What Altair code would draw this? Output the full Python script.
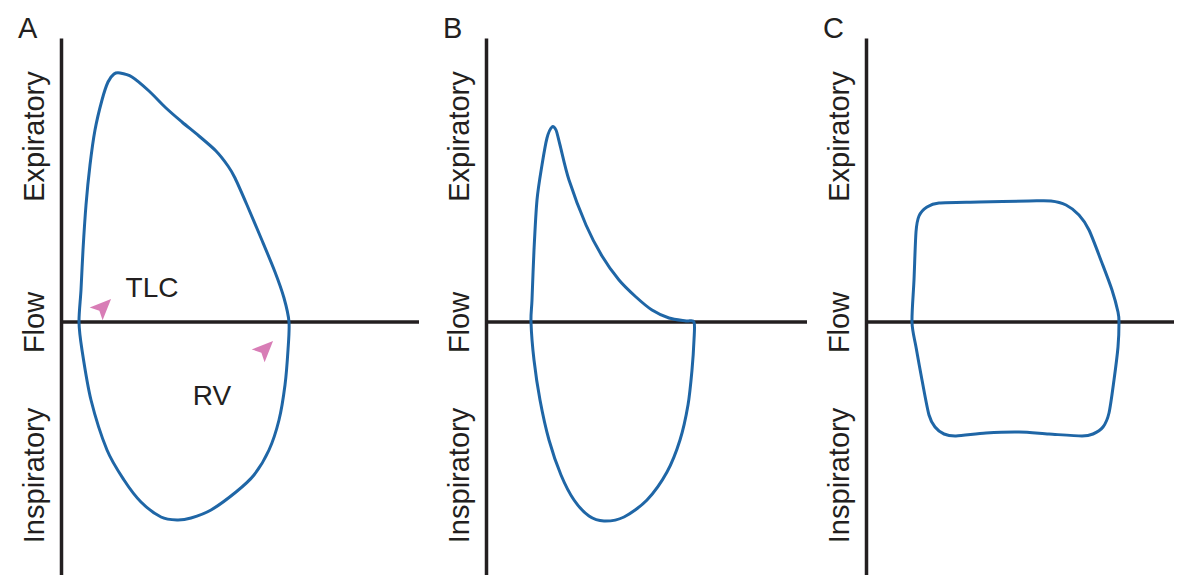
import altair as alt
import pandas as pd

# Flow-volume loops: volume (arbitrary units) vs flow (arbitrary units),
# expiration plotted upward, inspiration downward.
PANEL_LETTERS = ["A", "B", "C"]

A_VOLUME = [1.8, 2.0, 2.2, 2.5, 2.9, 3.4, 4.1, 4.7, 5.3, 5.9, 7.1, 8.8, 10.5, 12.1,
            13.8, 15.5, 16.7, 17.4, 18.6, 20.0, 21.4, 22.3, 22.8,
            22.7, 22.4, 21.8, 20.8, 19.3, 17.5, 15.0, 13.0, 11.6, 10.0, 8.0, 6.3,
            4.6, 3.0, 2.1]
A_FLOW = [0.0, 3.2, 7.2, 11.7, 15.7, 19.2, 22.2, 24.0, 24.8, 24.9, 24.5, 23.1, 21.4, 20.0,
          18.6, 17.1, 15.6, 14.4, 11.7, 8.4, 5.0, 2.4, 0.0,
          -2.8, -6.3, -9.8, -12.8, -15.3, -17.0, -18.8, -19.6, -19.8, -19.5, -18.0, -15.8,
          -12.8, -7.8, -2.8]

B_VOLUME = [4.5, 4.6, 4.8, 5.1, 5.6, 6.1, 6.6, 7.0, 7.4, 8.3, 10.0, 11.6, 13.3, 15.0,
            16.6, 18.3, 20.0, 20.8,
            20.8, 20.6, 20.2, 19.4, 18.1, 16.1, 13.8, 11.8, 10.3, 8.8, 7.5, 6.3, 5.4, 4.8]
B_FLOW = [0.0, 2.2, 7.2, 12.2, 15.7, 18.4, 19.5, 19.2, 17.7, 14.2, 9.7, 6.6, 4.2, 2.5,
          1.2, 0.4, 0.1, 0.0,
          -1.8, -4.8, -8.3, -11.8, -15.0, -17.8, -19.5, -19.9, -19.4, -17.8, -15.3, -11.8,
          -7.8, -3.8]

C_VOLUME = [4.6, 4.8, 5.0, 5.3, 6.1, 7.3, 11.3, 16.3, 18.5, 20.0, 21.3, 22.3, 23.6, 24.6,
            25.2, 25.3, 25.2, 24.8, 24.3, 23.7, 22.7, 21.6, 18.3, 15.3, 12.0, 9.0, 7.8,
            6.9, 6.3, 5.6, 5.0]
C_FLOW = [0.0, 4.2, 9.0, 10.6, 11.5, 11.9, 12.0, 12.1, 12.1, 11.7, 10.7, 9.2, 5.9, 3.2,
          1.0, 0.0, -2.5, -5.8, -9.1, -10.5, -11.2, -11.4, -11.2, -11.0, -11.1, -11.4, -11.2,
          -10.5, -9.3, -5.8, -2.5]

LOOPS_VOLUME = [A_VOLUME, B_VOLUME, C_VOLUME]
LOOPS_FLOW = [A_FLOW, B_FLOW, C_FLOW]

# extent of each panel's volume axis and of the drawn zero-flow line
PANEL_VOLUME_MAX = [38.5, 34.0, 30.8]
ZERO_LINE_END = [35.8, 32.1, 30.8]
FLOW_RANGE = [-25.3, 28.4]

SIDE_LABEL_FLOW = [18.6, 0.0, -15.3]
SIDE_LABEL_TEXT = ["Expiratory", "Flow", "Inspiratory"]

# annotations on panel A
NOTE_TEXT = ["TLC", "RV"]
NOTE_VOLUME = [9.1, 15.1]
NOTE_FLOW = [2.5, -8.3]
ARROW_VOLUME = [4.2, 20.4]
ARROW_FLOW = [1.5, -2.7]

INK = "#231f20"
LOOP_BLUE = "#1f66a6"
ARROW_PINK = "#d46fae"
FONT = "Liberation Sans"
PANEL_WIDTHS = [385, 340, 308]
PANEL_HEIGHT = 537

label_expr = ("datum.value > 1 ? '" + SIDE_LABEL_TEXT[0] + "' : datum.value < -1 ? '"
              + SIDE_LABEL_TEXT[2] + "' : '" + SIDE_LABEL_TEXT[1] + "'")


def make_panel(k):
    xs = alt.Scale(domain=[0, PANEL_VOLUME_MAX[k]], nice=False, zero=False)
    ys = alt.Scale(domain=FLOW_RANGE, nice=False, zero=False)
    y_axis = alt.Axis(
        title=None, values=SIDE_LABEL_FLOW, labelExpr=label_expr, labelAngle=270,
        labelAlign="center", labelBaseline="alphabetic", labelPadding=18,
        ticks=False, tickSize=0, grid=False, labelFont=FONT, labelFontSize=29,
        labelColor=INK, domainColor=INK, domainWidth=3.5, labelOverlap=False,
        labelBound=False, labelFlush=False,
    )
    x_enc = alt.X("volume:Q", scale=xs, axis=None)
    y_enc = alt.Y("flow:Q", scale=ys, axis=y_axis)

    zero_line = alt.Chart(
        pd.DataFrame({"volume": [0.0], "volume_end": [ZERO_LINE_END[k]], "flow": [0.0]})
    ).mark_rule(color=INK, strokeWidth=3.5).encode(x=x_enc, x2="volume_end:Q", y=y_enc)

    loop_df = pd.DataFrame({
        "volume": LOOPS_VOLUME[k],
        "flow": LOOPS_FLOW[k],
        "step": list(range(len(LOOPS_VOLUME[k]))),
    })
    loop = alt.Chart(loop_df).mark_line(
        color=LOOP_BLUE, strokeWidth=3, interpolate="cardinal-closed", tension=0.15
    ).encode(x=x_enc, y=y_enc, order="step:Q")

    layers = [zero_line, loop]
    if k == 0:
        notes = alt.Chart(pd.DataFrame({
            "volume": NOTE_VOLUME, "flow": NOTE_FLOW, "text": NOTE_TEXT,
        })).mark_text(font=FONT, fontSize=28, color=INK, align="center",
                      baseline="alphabetic").encode(x=x_enc, y=y_enc, text="text:N")
        arrows = alt.Chart(pd.DataFrame({
            "volume": ARROW_VOLUME, "flow": ARROW_FLOW,
        })).mark_point(
            shape="M0,-1L0.8,0.85L0,0.45L-0.8,0.85Z", angle=45, size=520,
            filled=True, color=ARROW_PINK, opacity=0.9,
        ).encode(x=x_enc, y=y_enc)
        layers += [notes, arrows]

    return alt.layer(*layers).properties(
        width=PANEL_WIDTHS[k], height=PANEL_HEIGHT,
        title=alt.TitleParams(
            text=PANEL_LETTERS[k], anchor="start", frame="group", dx=-43, offset=-29,
            fontSize=29, font=FONT, fontWeight="normal", color=INK, baseline="alphabetic",
        ),
    )


chart = alt.hconcat(
    *[make_panel(k) for k in range(3)], spacing=40, bounds="flush"
).properties(
    padding={"left": 18, "top": 15, "right": 0, "bottom": 0},
    autosize=alt.AutoSizeParams(type="pad"),
).configure_view(stroke=None)

chart.save("out.html", embed_options={"renderer": "svg", "actions": False})
